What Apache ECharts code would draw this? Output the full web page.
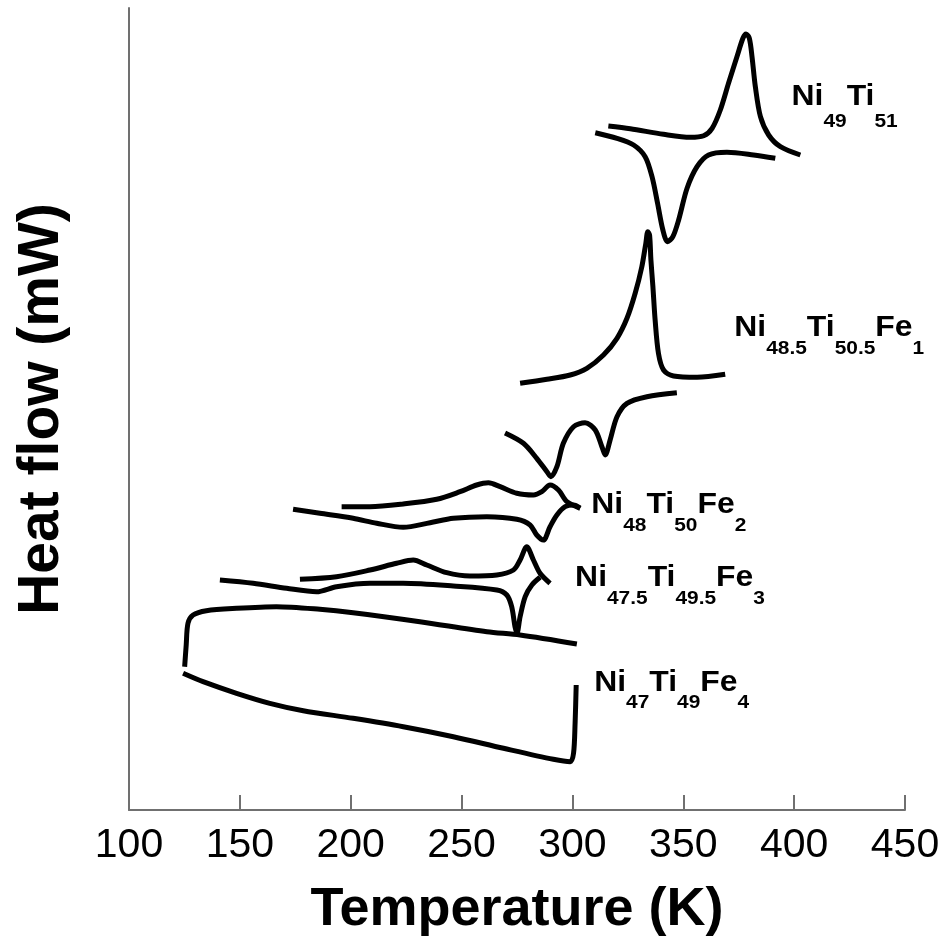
<!DOCTYPE html>
<html>
<head>
<meta charset="utf-8">
<script src="https://cdn.jsdelivr.net/npm/echarts@6/dist/echarts.min.js"></script>
<style>
  html, body { margin: 0; padding: 0; background: #fff; }
  #chart { width: 949px; height: 948px; }
</style>
</head>
<body>
<div id="chart"></div>
<script>
// DSC traces: [temperature (K), heat flow (arb. units)]
var ni49Upper = [[316.2,684],[326.1,681.3],[341.1,675.7],[353.2,672.7],[359.2,674.3],[363.0,681.7],[366.7,700],[370.4,726.7],[374.2,753.3],[376.9,771.7],[378.3,776],[379.8,771.7],[381.0,753.3],[382.5,723.3],[384.8,693.3],[388.5,675],[393.8,663.3],[402.8,655]];
var ni49Lower = [[310.3,677.3],[320.1,671.7],[327.6,665],[332.8,653.3],[335.9,633.3],[338.4,606.7],[340.8,580],[342.9,568.3],[345.3,573.3],[347.9,590],[351.7,621.7],[356.2,643.3],[361.4,655],[369.7,657.7],[381.7,655],[391.5,651.7]];

var fe1Upper = [[276.4,426.7],[288.5,430.7],[299.0,435],[306.5,441.7],[314.0,455],[320.1,471.7],[324.6,491.7],[328.3,516.7],[331.3,543.3],[333.1,566.7],[334.0,578.3],[334.8,575],[335.4,550],[336.3,523.3],[337.3,490],[338.8,456.7],[341.1,440],[345.6,434],[356.2,432.7],[368.9,435.7]];
var fe1Lower = [[269.6,377],[277.9,366.7],[283.9,351.7],[288.5,338.3],[290.3,333.3],[293.0,343.3],[295.9,366.7],[300.5,383.3],[305.7,387.3],[310.3,380],[313.3,363.3],[314.8,355],[317.0,370],[320.1,393.3],[324.6,406.7],[333.6,413.3],[347.1,417.3]];

var fe2Upper = [[195.9,303.3],[208.7,303.3],[223.7,306],[238.8,310.7],[249.3,318.3],[256.8,325],[262.1,327.3],[267.4,323.3],[274.9,316.7],[282.4,315],[286.2,318.3],[289.9,325],[293.7,320],[297.5,308.3],[303.5,301.7]];
var fe2Lower = [[174.0,300.7],[186.1,296.7],[201.1,291.7],[211.7,286.7],[223.7,282.7],[235.8,287.3],[246.3,291.7],[261.4,293.3],[274.9,290.7],[280.9,285],[283.9,275],[286.9,270],[289.9,283.3],[293.0,295],[296.7,303.3],[300.5,305],[303.5,302]];

var fe3Upper = [[177.1,230.7],[193.6,233.3],[208.7,240],[220.7,246.7],[228.2,250],[234.3,245],[243.3,237.3],[253.8,234],[265.9,235],[273.4,240],[276.4,250],[279.4,263.3],[282.4,250],[285.4,236.7],[289.9,226.7]];
var fe3Lower = [[141.0,230],[156.0,226.7],[171.1,221.7],[184.6,218.3],[193.6,223.3],[208.7,226.7],[223.7,226.7],[246.3,224],[265.9,220],[270.4,215],[272.6,203.3],[274.1,183.3],[275.0,177],[276.4,193.3],[278.7,213.3],[281.7,225],[285.4,232.7]];

var fe4Upper = [[125.1,143.3],[125.8,165],[126.6,186.7],[128.9,195],[134.9,199.3],[148.5,201.7],[166.5,203.3],[186.1,200.7],[201.1,197.3],[231.2,188.3],[261.4,178.3],[276.4,175],[302.0,166]];
var fe4Lower = [[124.4,136.7],[133.4,128.3],[148.5,116.7],[163.5,106.7],[178.6,99.3],[201.1,91.7],[223.7,83.3],[246.3,73.3],[268.9,61.7],[291.4,50.7],[299.0,48.3],[300.5,56.7],[301.2,86.7],[301.7,125]];

var curves = [ni49Upper, ni49Lower, fe1Upper, fe1Lower, fe2Upper, fe2Lower, fe3Upper, fe3Lower, fe4Upper, fe4Lower];

var xTicks = [100, 150, 200, 250, 300, 350, 400, 450];

// sample names (rich text, s = subscript) and where they sit, in data units
var labelNames = [
  '{m|Ni}{t|49}{m|Ti}{t|51}',
  '{m|Ni}{s|48.5}{m|Ti}{s|50.5}{m|Fe}{s|1}',
  '{m|Ni}{s|48}{m|Ti}{s|50}{m|Fe}{s|2}',
  '{m|Ni}{s|47.5}{m|Ti}{s|49.5}{m|Fe}{s|3}',
  '{m|Ni}{s|47}{m|Ti}{s|49}{m|Fe}{s|4}'
];
var labelAt = [[398.8, 713.5], [373.0, 481.8], [308.5, 305.1], [301.2, 231.8], [309.8, 127.4]];

var FONT = '"Liberation Sans", Arial, Helvetica, sans-serif';
var chart = echarts.init(document.getElementById('chart'));

var series = curves.map(function (d) {
  return {
    type: 'line',
    data: d,
    symbol: 'none',
    smooth: 0.3,
    silent: true,
    lineStyle: { color: '#000', width: 5, join: 'round' }
  };
});

chart.setOption({
  animation: false,
  backgroundColor: '#fff',
  grid: { left: 129, right: 44, top: 8, bottom: 138, containLabel: false, outerBoundsMode: 'none' },
  xAxis: {
    type: 'value',
    min: xTicks[0],
    max: xTicks[xTicks.length - 1],
    interval: 50,
    splitLine: { show: false },
    axisLine: { lineStyle: { color: '#707070', width: 2 } },
    axisTick: { inside: true, length: 15, lineStyle: { color: '#707070', width: 2 } },
    axisLabel: { color: '#000', fontSize: 41, fontFamily: FONT, margin: 15 },
    name: 'Temperature (K)',
    nameLocation: 'middle',
    nameGap: 73,
    nameTextStyle: { color: '#000', fontSize: 54, fontWeight: 'bold', fontFamily: FONT }
  },
  yAxis: {
    type: 'value',
    min: 0,
    max: 802,
    splitLine: { show: false },
    axisLine: { show: true, lineStyle: { color: '#707070', width: 2 } },
    axisTick: { show: false },
    axisLabel: { show: false },
    name: 'Heat flow (mW)',
    nameLocation: 'middle',
    nameRotate: 90,
    nameGap: 58,
    nameTextStyle: { color: '#000', fontSize: 57, fontWeight: 'bold', fontFamily: FONT }
  },
  series: series
});

// labels are slightly stretched horizontally like in the original figure
var rich = {
  m: { fontSize: 29, fontWeight: 'bold', fontFamily: FONT, fill: '#000' },
  s: { fontSize: 19, fontWeight: 'bold', fontFamily: FONT, fill: '#000', padding: [41, 0, 0, 0] },
  t: { fontSize: 19, fontWeight: 'bold', fontFamily: FONT, fill: '#000', padding: [50, 0, 0, 0] }
};
var graphics = labelNames.map(function (txt, i) {
  var p = chart.convertToPixel({ gridIndex: 0 }, labelAt[i]);
  return {
    type: 'text',
    x: p[0],
    y: p[1],
    scaleX: 1.1,
    silent: true,
    style: { text: txt, rich: rich, align: 'left', verticalAlign: 'middle', fill: '#000' }
  };
});
chart.setOption({ graphic: graphics });
</script>
</body>
</html>
